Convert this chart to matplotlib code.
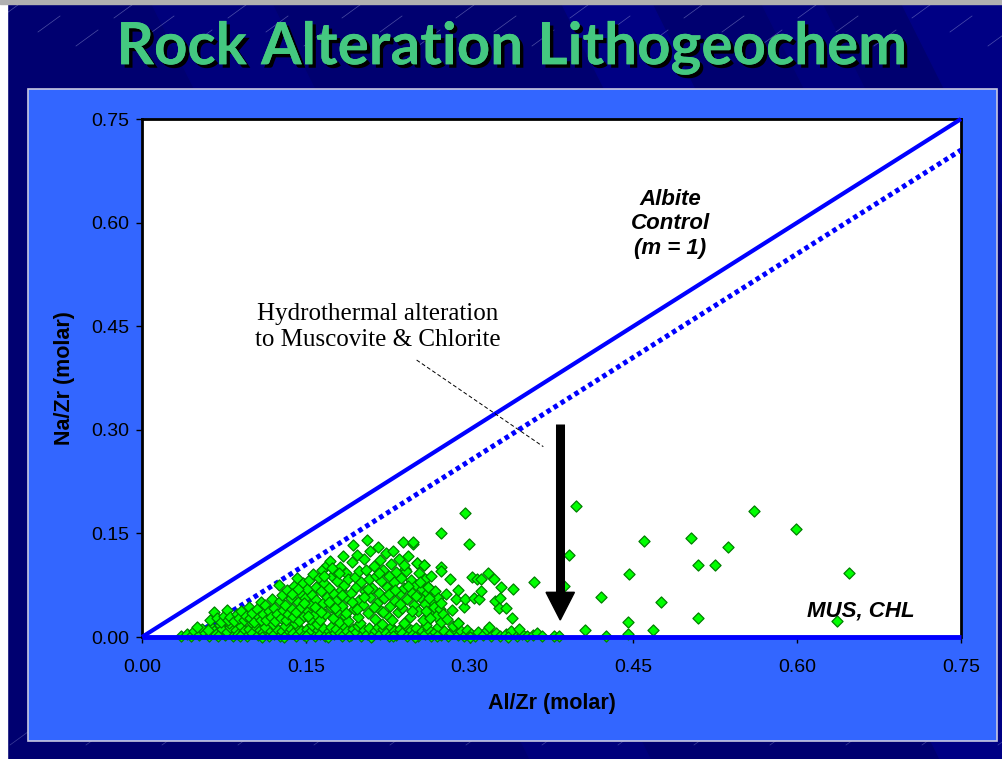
import numpy as np
import matplotlib
matplotlib.use("Agg")
import matplotlib.pyplot as plt
import matplotlib.patheffects as pe
from matplotlib.patches import Rectangle, Polygon

# axis ticks
ticks = [0.00, 0.15, 0.30, 0.45, 0.60, 0.75]
tick_labels = ["0.00", "0.15", "0.30", "0.45", "0.60", "0.75"]

# albite control line (m = 1) and the shifted dotted line
albite_x = [0.0, 0.75]
albite_y = [0.0, 0.75]
dotted_x = [0.045, 0.75]
dotted_y = [0.0, 0.705]
mus_x = [0.0, 0.75]
mus_y = [0.0, 0.0]

# samples near the Na/Zr = 0 baseline
base_pts = [
    (0.036, 0.002), (0.041, 0.004), (0.045, 0.001), (0.048, 0.008), (0.052, 0.003), (0.055, 0.012),
    (0.058, 0.006), (0.061, 0.002), (0.063, 0.015), (0.066, 0.009), (0.068, 0.004), (0.071, 0.018),
    (0.073, 0.011), (0.076, 0.003), (0.078, 0.007), (0.081, 0.014), (0.083, 0.001), (0.086, 0.010),
    (0.088, 0.005), (0.091, 0.016), (0.093, 0.008), (0.096, 0.002), (0.098, 0.012), (0.101, 0.006),
    (0.103, 0.017), (0.106, 0.003), (0.108, 0.010), (0.111, 0.007), (0.113, 0.014), (0.116, 0.002),
    (0.118, 0.009), (0.121, 0.005), (0.123, 0.013), (0.126, 0.001), (0.128, 0.008), (0.131, 0.016),
    (0.133, 0.004), (0.136, 0.011), (0.138, 0.006), (0.141, 0.002), (0.143, 0.014), (0.146, 0.009),
    (0.148, 0.003), (0.151, 0.012), (0.153, 0.006), (0.156, 0.017), (0.158, 0.002), (0.161, 0.010),
    (0.163, 0.005), (0.166, 0.013), (0.168, 0.001), (0.171, 0.008), (0.173, 0.015), (0.176, 0.004),
    (0.178, 0.011), (0.181, 0.006), (0.183, 0.002), (0.186, 0.014), (0.188, 0.009), (0.191, 0.003),
    (0.193, 0.012), (0.196, 0.007), (0.198, 0.016), (0.201, 0.002), (0.203, 0.010), (0.206, 0.005),
    (0.208, 0.013), (0.211, 0.001), (0.213, 0.008), (0.216, 0.015), (0.218, 0.004), (0.221, 0.011),
    (0.223, 0.006), (0.226, 0.002), (0.228, 0.014), (0.231, 0.009), (0.233, 0.003), (0.236, 0.012),
    (0.238, 0.006), (0.241, 0.017), (0.243, 0.002), (0.246, 0.010), (0.248, 0.005), (0.251, 0.013),
    (0.253, 0.001), (0.256, 0.008), (0.259, 0.004), (0.262, 0.011), (0.265, 0.002), (0.268, 0.007),
    (0.271, 0.014), (0.274, 0.003), (0.277, 0.009), (0.280, 0.001), (0.283, 0.006), (0.286, 0.012),
    (0.289, 0.003), (0.292, 0.008), (0.295, 0.002), (0.298, 0.010), (0.301, 0.005), (0.305, 0.001),
    (0.308, 0.007), (0.312, 0.003), (0.316, 0.010), (0.320, 0.002), (0.324, 0.006), (0.328, 0.001),
    (0.333, 0.004), (0.338, 0.008), (0.343, 0.002), (0.348, 0.005), (0.353, 0.001), (0.358, 0.003),
    (0.050, 0.015), (0.060, 0.010), (0.070, 0.001), (0.080, 0.020), (0.090, 0.001), (0.100, 0.021),
    (0.110, 0.000), (0.120, 0.019), (0.130, 0.000), (0.140, 0.020), (0.150, 0.001), (0.160, 0.019),
    (0.170, 0.000), (0.180, 0.021), (0.190, 0.001), (0.200, 0.020), (0.210, 0.000), (0.220, 0.019),
    (0.230, 0.001), (0.240, 0.020), (0.250, 0.000), (0.260, 0.017), (0.270, 0.001), (0.285, 0.016),
    (0.300, 0.000), (0.318, 0.014), (0.335, 0.000), (0.345, 0.011), (0.362, 0.006), (0.366, 0.001),
]

# main cluster of samples
cluster_pts = [
    (0.062, 0.024), (0.066, 0.036), (0.069, 0.028), (0.072, 0.022), (0.075, 0.031), (0.078, 0.039),
    (0.079, 0.025), (0.081, 0.029), (0.084, 0.023), (0.087, 0.034), (0.089, 0.027), (0.091, 0.038),
    (0.093, 0.024), (0.095, 0.031), (0.098, 0.044), (0.099, 0.027), (0.101, 0.035), (0.103, 0.022),
    (0.105, 0.041), (0.107, 0.029), (0.109, 0.051), (0.109, 0.025), (0.111, 0.033), (0.113, 0.046),
    (0.114, 0.024), (0.116, 0.038), (0.118, 0.029), (0.119, 0.055), (0.121, 0.042), (0.122, 0.023),
    (0.124, 0.034), (0.125, 0.076), (0.126, 0.052), (0.127, 0.028), (0.128, 0.061), (0.129, 0.039),
    (0.131, 0.047), (0.132, 0.025), (0.133, 0.068), (0.134, 0.033), (0.136, 0.056), (0.137, 0.041),
    (0.138, 0.029), (0.139, 0.074), (0.141, 0.036), (0.142, 0.085), (0.143, 0.051), (0.144, 0.023),
    (0.145, 0.064), (0.146, 0.043), (0.147, 0.078), (0.148, 0.031), (0.149, 0.057), (0.151, 0.069),
    (0.152, 0.038), (0.153, 0.082), (0.154, 0.026), (0.155, 0.047), (0.156, 0.061), (0.157, 0.091),
    (0.158, 0.034), (0.159, 0.072), (0.159, 0.053), (0.161, 0.041), (0.162, 0.086), (0.163, 0.024),
    (0.164, 0.066), (0.165, 0.097), (0.166, 0.049), (0.167, 0.078), (0.168, 0.033), (0.169, 0.058),
    (0.169, 0.104), (0.171, 0.071), (0.172, 0.110), (0.173, 0.044), (0.174, 0.089), (0.175, 0.027),
    (0.176, 0.062), (0.177, 0.095), (0.178, 0.052), (0.179, 0.081), (0.179, 0.037), (0.181, 0.102),
    (0.182, 0.068), (0.183, 0.045), (0.184, 0.118), (0.185, 0.076), (0.186, 0.031), (0.187, 0.092),
    (0.188, 0.057), (0.189, 0.084), (0.189, 0.023), (0.191, 0.064), (0.192, 0.108), (0.193, 0.133),
    (0.194, 0.041), (0.195, 0.087), (0.196, 0.072), (0.197, 0.119), (0.198, 0.029), (0.199, 0.095),
    (0.199, 0.054), (0.201, 0.079), (0.202, 0.046), (0.203, 0.113), (0.204, 0.066), (0.205, 0.097),
    (0.206, 0.141), (0.207, 0.035), (0.208, 0.084), (0.209, 0.058), (0.209, 0.124), (0.211, 0.071),
    (0.212, 0.103), (0.213, 0.026), (0.214, 0.089), (0.215, 0.049), (0.216, 0.131), (0.217, 0.064),
    (0.218, 0.112), (0.219, 0.038), (0.219, 0.081), (0.221, 0.097), (0.222, 0.056), (0.223, 0.122),
    (0.224, 0.073), (0.225, 0.031), (0.226, 0.088), (0.227, 0.045), (0.228, 0.106), (0.229, 0.067),
    (0.229, 0.024), (0.230, 0.124), (0.231, 0.079), (0.232, 0.052), (0.233, 0.094), (0.234, 0.036),
    (0.235, 0.113), (0.236, 0.063), (0.237, 0.086), (0.238, 0.042), (0.239, 0.137), (0.240, 0.071),
    (0.241, 0.099), (0.242, 0.095), (0.243, 0.055), (0.244, 0.118), (0.245, 0.029), (0.246, 0.083),
    (0.247, 0.064), (0.248, 0.134), (0.249, 0.046), (0.251, 0.076), (0.252, 0.107), (0.253, 0.038),
    (0.254, 0.092), (0.255, 0.058), (0.256, 0.069), (0.257, 0.025), (0.258, 0.104), (0.259, 0.048),
    (0.259, 0.084), (0.261, 0.063), (0.262, 0.073), (0.263, 0.035), (0.264, 0.027), (0.265, 0.089),
    (0.266, 0.052), (0.267, 0.044), (0.268, 0.066), (0.269, 0.031), (0.271, 0.057), (0.273, 0.041),
    (0.274, 0.102), (0.274, 0.096), (0.274, 0.150), (0.274, 0.049), (0.274, 0.021), (0.276, 0.034),
    (0.278, 0.062), (0.279, 0.026), (0.282, 0.084), (0.284, 0.039), (0.288, 0.055), (0.289, 0.068),
    (0.289, 0.020), (0.295, 0.043), (0.296, 0.055), (0.296, 0.179), (0.299, 0.135), (0.302, 0.087),
    (0.304, 0.057), (0.307, 0.084), (0.309, 0.055), (0.310, 0.084), (0.310, 0.067), (0.317, 0.093),
    (0.322, 0.084), (0.323, 0.052), (0.328, 0.056), (0.327, 0.042), (0.329, 0.073), (0.333, 0.042),
    (0.339, 0.028), (0.340, 0.069),
    (0.152, 0.030), (0.158, 0.044), (0.164, 0.036), (0.171, 0.050), (0.177, 0.042), (0.183, 0.061),
    (0.187, 0.035), (0.192, 0.050), (0.197, 0.040), (0.203, 0.058), (0.207, 0.070), (0.212, 0.044),
    (0.217, 0.092), (0.221, 0.036), (0.226, 0.062), (0.232, 0.068), (0.236, 0.048), (0.240, 0.104),
    (0.244, 0.074), (0.247, 0.038), (0.251, 0.060), (0.255, 0.079), (0.260, 0.038), (0.263, 0.057),
    (0.137, 0.062), (0.143, 0.070), (0.148, 0.049), (0.167, 0.089), (0.174, 0.100), (0.180, 0.092),
]

# scattered high Al/Zr samples
outlier_pts = [
    (0.397, 0.189), (0.391, 0.119), (0.359, 0.079), (0.386, 0.074), (0.420, 0.058), (0.460, 0.139),
    (0.446, 0.091), (0.445, 0.021), (0.445, 0.004), (0.406, 0.010), (0.425, 0.002), (0.377, 0.002),
    (0.382, 0.002), (0.468, 0.010), (0.475, 0.050), (0.503, 0.144), (0.509, 0.104), (0.525, 0.104),
    (0.537, 0.131), (0.509, 0.028), (0.560, 0.183), (0.599, 0.157), (0.647, 0.093), (0.636, 0.023),
    (0.248, 0.138), (0.252, 0.107), (0.258, 0.104), (0.262, 0.073), (0.264, 0.027), (0.289, 0.020),
]

samples = np.array(base_pts + cluster_pts + outlier_pts)

W, H = 1003, 759
fig = plt.figure(figsize=(W / 100, H / 100), dpi=100)
fig.patch.set_facecolor("#000070")

# slide background: navy with lighter diagonal bands and faint streaks
bg = fig.add_axes([0, 0, 1, 1])
bg.set_xlim(0, W)
bg.set_ylim(H, 0)
bg.axis("off")
bg.add_patch(Rectangle((0, 0), W, H, color="#000070", zorder=0))
for x0, wd, col in [(150, 120, "#00007c"), (560, 90, "#000084"), (760, 60, "#00007c"), (900, 110, "#000084")]:
    bg.add_patch(Polygon([(x0, 0), (x0 + wd, 0), (x0 + wd + 380, H), (x0 + 380, H)],
                         closed=True, color=col, zorder=0.5))
for k in range(-12, 40):
    xs = k * 38
    bg.plot([xs, xs + 22], [18 + (k % 3) * 14, 2 + (k % 3) * 14], color="#9aa0d8", lw=0.5, alpha=0.5, zorder=1)
    bg.plot([xs + 10, xs + 32], [745 - (k % 2) * 8, 729 - (k % 2) * 8], color="#9aa0d8", lw=0.5, alpha=0.4, zorder=1)
bg.add_patch(Rectangle((0, 0), 7, H, color="white", zorder=2))
bg.add_patch(Rectangle((0, 0), W, 4, color="#b0b0b0", zorder=2))
# chart panel
bg.add_patch(Rectangle((28, 89), 969, 652, facecolor="#3366ff", edgecolor="#c8c8e0", lw=1.2, zorder=3))

bg.text(512, 48, "Rock Alteration Lithogeochem", ha="center", va="center",
        fontsize=42, fontweight="bold", family="Lato", color="#44c880", zorder=4,
        path_effects=[pe.withSimplePatchShadow(offset=(2.5, -2.5), shadow_rgbFace="black", alpha=1.0),
                      pe.Normal()])

ax = fig.add_axes([142 / W, 1 - 637 / H, 819 / W, 518 / H])
ax.set_facecolor("white")
ax.set_xlim(0, 0.75)
ax.set_ylim(0, 0.75)

ax.plot(albite_x, albite_y, color="#0000ff", lw=3, solid_capstyle="butt", zorder=3, clip_on=False)
ax.plot(dotted_x, dotted_y, color="#0000ff", lw=3.6, linestyle=(0, (0.9, 0.75)),
        dash_capstyle="butt", zorder=3)
ax.scatter(samples[:, 0], samples[:, 1], marker="D", s=32, facecolor="#00ff00",
           edgecolor="#008000", linewidths=0.9, zorder=4, clip_on=False)
ax.plot(mus_x, mus_y, color="#0000ff", lw=3.5, solid_capstyle="butt", zorder=5, clip_on=False)

# alteration arrow: shaft plus triangular head
ax.plot([0.383, 0.383], [0.308, 0.060], color="black", lw=6.5, solid_capstyle="butt", zorder=6)
ax.fill([0.383 - 0.0130, 0.383 + 0.0130, 0.383], [0.0647, 0.0647, 0.0246], color="black", zorder=6)
ax.plot([0.2515, 0.3675], [0.401, 0.2756], color="black", lw=0.7, linestyle=(0, (4, 2.5)), zorder=6)

ax.text(0.216, 0.449, "Hydrothermal alteration\nto Muscovite & Chlorite", ha="center", va="center",
        fontsize=18, family="Liberation Serif", linespacing=1.22, zorder=7)
ax.text(0.4835, 0.598, "Albite\nControl\n(m = 1)", ha="center", va="center", fontsize=16,
        fontweight="bold", fontstyle="italic", family="Liberation Sans", linespacing=1.22, zorder=7)
ax.text(0.658, 0.037, "MUS, CHL", ha="center", va="center", fontsize=16,
        fontweight="bold", fontstyle="italic", family="Liberation Sans", zorder=7)

ax.set_xticks(ticks)
ax.set_yticks(ticks)
ax.set_xticklabels(tick_labels, family="Liberation Sans", fontsize=14)
ax.set_yticklabels(tick_labels, family="Liberation Sans", fontsize=14)
ax.tick_params(direction="out", length=4, width=1, color="black", pad=5)
ax.tick_params(axis="x", pad=12)
for side in ["left", "top", "right"]:
    ax.spines[side].set_linewidth(2)
    ax.spines[side].set_color("black")
ax.spines["bottom"].set_visible(False)

ax.set_xlabel("Al/Zr (molar)", family="Liberation Sans", fontsize=15.5, fontweight="bold", labelpad=12)
ax.set_ylabel("Na/Zr (molar)", family="Liberation Sans", fontsize=15.5, fontweight="bold", labelpad=12)

fig.savefig("out.png", dpi=100, facecolor=fig.get_facecolor())
